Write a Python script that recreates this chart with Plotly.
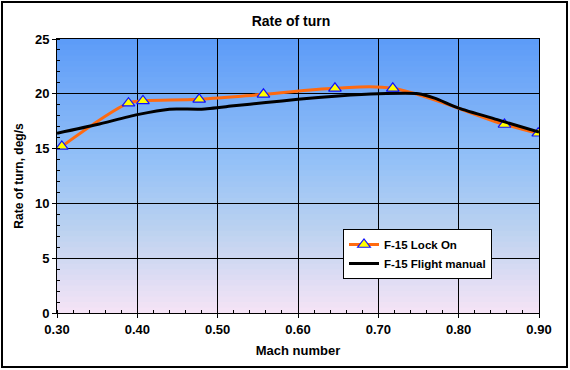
import plotly.graph_objects as go
from plotly.colors import sample_colorscale

# Data
lockon_mach = [0.306, 0.389, 0.407, 0.477, 0.557, 0.646, 0.718, 0.857, 0.899]
lockon_rate = [15.2, 19.15, 19.35, 19.5, 19.95, 20.5, 20.5, 17.2, 16.4]

manual_mach = [0.30, 0.35, 0.40, 0.44, 0.48, 0.52, 0.56, 0.60, 0.65, 0.70, 0.75, 0.77, 0.80, 0.85, 0.90]
manual_rate = [16.4, 17.2, 18.1, 18.6, 18.6, 18.9, 19.2, 19.5, 19.8, 20.0, 20.0, 19.6, 18.7, 17.6, 16.5]

x_ticks = [0.3, 0.4, 0.5, 0.6, 0.7, 0.8, 0.9]
x_ticklabels = ["0.30", "0.40", "0.50", "0.60", "0.70", "0.80", "0.90"]
y_ticks = [0, 5, 10, 15, 20, 25]

FONT = "Liberation Sans, Arial, sans-serif"

fig = go.Figure()

fig.add_trace(go.Scatter(
    x=lockon_mach, y=lockon_rate, name="<b>F-15 Lock On</b>",
    mode="lines+markers",
    line=dict(color="#ff6a10", width=3, shape="spline", smoothing=1.0),
    marker=dict(symbol="triangle-up", size=11, color="#ffff00",
                line=dict(color="#1010ff", width=1.2)),
))
fig.add_trace(go.Scatter(
    x=manual_mach, y=manual_rate, name="<b>F-15 Flight manual</b>",
    mode="lines",
    line=dict(color="black", width=3, shape="spline", smoothing=0.6),
))

W, H = 570, 370
L, R, T, B = 57, 31, 39, 57
pw, ph = W - L - R, H - T - B

# gradient plot background (styling only), below gridlines
N = 50
scale = [[0, "#f6e4f6"], [0.3, "#bcd2f0"], [0.55, "#94c1f7"], [1, "#5c9bf8"]]
cols = sample_colorscale(scale, [(i + 0.5) / N for i in range(N)])
for i, c in enumerate(cols):
    fig.add_shape(type="rect", xref="x domain", yref="y domain",
                  x0=0, x1=1, y0=i / N, y1=min(1.0, (i + 1.6) / N),
                  line=dict(width=0, color="rgba(0,0,0,0)"), fillcolor=c, layer="below")

# outer frame
fig.add_shape(type="rect", xref="paper", yref="paper",
              x0=(2 - L) / pw, x1=(567 - L) / pw,
              y0=-(B - 3) / ph, y1=(ph + T - 2) / ph,
              line=dict(color="black", width=2), fillcolor="rgba(0,0,0,0)", layer="above")

fig.update_layout(
    width=W, height=H,
    margin=dict(l=L, r=R, t=T, b=B),
    paper_bgcolor="white", plot_bgcolor="white",
    font=dict(family=FONT, size=12, color="black"),
    title=dict(text="<b>Rate of turn</b>", x=291 / W, xanchor="center",
               y=1 - 21 / H, yanchor="middle", font=dict(size=14, family=FONT)),
    legend=dict(x=(343 - L) / pw, y=(313 - 229) / ph, xanchor="left", yanchor="top",
                bgcolor="white", bordercolor="black", borderwidth=1,
                font=dict(size=11.5, family=FONT, color="black"),
                tracegroupgap=0, itemwidth=30),
    showlegend=True,
)
fig.update_xaxes(
    range=[0.3, 0.9], tickvals=x_ticks, ticktext=["<b>%s</b>" % t for t in x_ticklabels],
    tickfont=dict(size=13),
    showgrid=True, gridcolor="black", gridwidth=1,
    showline=True, linecolor="black", linewidth=1, mirror=True,
    ticks="outside", ticklen=4, tickcolor="black",
    minor=dict(dtick=0.02, ticks="inside", ticklen=3, tickcolor="black", showgrid=False),
    title=dict(text="<b>Mach number</b>", standoff=10, font=dict(size=13)),
    zeroline=False,
)
fig.update_yaxes(
    range=[0, 25], tickvals=y_ticks, ticktext=["<b>%d</b>" % t for t in y_ticks],
    tickfont=dict(size=13),
    showgrid=True, gridcolor="black", gridwidth=1,
    showline=True, linecolor="black", linewidth=1, mirror=True,
    ticks="outside", ticklen=4, tickcolor="black",
    minor=dict(dtick=1, ticks="inside", ticklen=3, tickcolor="black", showgrid=False),
    title=dict(text="<b>Rate of turn, deg/s</b>", standoff=8, font=dict(size=12)),
    zeroline=False,
)

fig.write_html("out.html", config={"displayModeBar": False},
               post_script="document.body.style.margin='0';document.body.style.overflow='hidden';")
